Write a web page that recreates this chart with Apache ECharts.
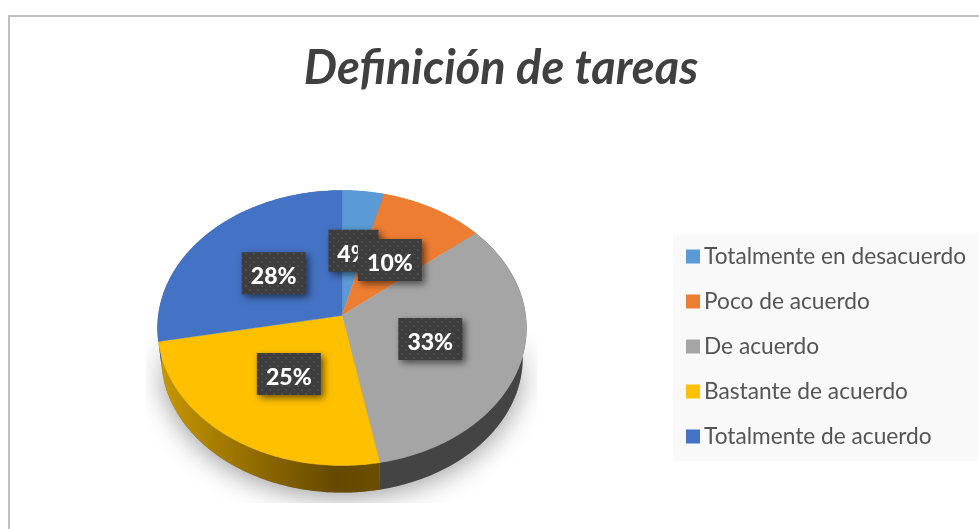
<!DOCTYPE html>
<html>
<head>
<meta charset="utf-8">
<script src="https://cdn.jsdelivr.net/npm/echarts@6/dist/echarts.min.js"></script>
<style>html,body{margin:0;padding:0;background:#fff}#c{width:979px;height:529px}</style>
</head>
<body>
<div id="c"></div>
<script>
const titleText = 'Definición de tareas';
const categories = ['Totalmente en desacuerdo', 'Poco de acuerdo', 'De acuerdo', 'Bastante de acuerdo', 'Totalmente de acuerdo'];
const values = [4, 10, 33, 25, 28];
const colors = ['#5b9bd5', '#ed7d31', '#a5a5a5', '#ffc000', '#4472c4'];

const total = values.reduce((a, b) => a + b, 0);
const startAt = values.map((_, i) => values.slice(0, i).reduce((a, b) => a + b, 0));

// Tilted disc: circle seen in perspective
const C = { x: 342, y: 315.5, rx: 183.7, ry: 136.4, k: 0.0909 };
const B = { x: 342, y: 345.5, rx: 180, ry: 133.7, k: 0.0909 };
function proj(D, frac, r) {
  const t = frac * 2 * Math.PI, s = Math.sin(t), c = Math.cos(t), rr = r === undefined ? 1 : r;
  const d = 1 + D.k * c * rr;
  return [D.x + D.rx * s * rr / d, D.y - D.ry * c * rr / d];
}
function arc(D, a, b) {
  const pts = [], n = Math.max(2, Math.ceil((b - a) * 360));
  for (let i = 0; i <= n; i++) pts.push(proj(D, a + (b - a) * i / n));
  return pts;
}
const dotted = (function () {
  const cv = document.createElement('canvas'); cv.width = 8; cv.height = 8;
  const g = cv.getContext('2d');
  g.fillStyle = '#3d3d3d'; g.fillRect(0, 0, 8, 8);
  g.fillStyle = '#4c4c4c'; g.fillRect(1, 1, 2, 2); g.fillRect(5, 5, 2, 2);
  return cv;
})();
const wallFill = [
  '#3f5f9f', '#a85820', '#444444',
  new echarts.graphic.LinearGradient(158, 0, 381, 0, [
    { offset: 0, color: '#c89800' }, { offset: 0.45, color: '#8f6a00' },
    { offset: 0.8, color: '#644900' }, { offset: 1, color: '#6b4e00' }], true),
  '#2f5597'
];

const baseSeries = {
  type: 'custom', name: 'base', coordinateSystem: 'none', silent: true, z: 1,
  data: [total],
  renderItem() {
    return {
      type: 'group', children: [
        { type: 'polygon', shape: { points: arc(B, 0, 1) },
          style: { fill: '#8a8a8a', shadowBlur: 28, shadowOffsetY: 4, shadowColor: 'rgba(0,0,0,0.4)' },
          clipPath: { type: 'rect', shape: { x: 146, y: 330, width: 391, height: 173 } } },
        { type: 'rect', shape: { x: 140, y: 328, width: 403, height: 62 },
          style: { fill: new echarts.graphic.LinearGradient(0, 0, 0, 1, [
            { offset: 0, color: 'rgba(255,255,255,1)' }, { offset: 1, color: 'rgba(255,255,255,0)' }]) } }
      ]
    };
  }
};
const wallSeries = {
  type: 'custom', name: 'wall', coordinateSystem: 'none', silent: true, z: 2,
  data: values,
  renderItem(params) {
    const i = params.dataIndex;
    const a = startAt[i] / total, b = (startAt[i] + values[i]) / total;
    const pts = arc(C, a, b).concat(arc(B, a, b).reverse());
    return { type: 'polygon', shape: { points: pts }, style: { fill: wallFill[i] } };
  }
};
const topSeries = categories.map((name, i) => ({
  type: 'custom', name, coordinateSystem: 'none', z: 3,
  itemStyle: { color: colors[i] },
  data: [values[i]],
  renderItem() {
    const a = startAt[i] / total, b = (startAt[i] + values[i]) / total;
    const pts = [[C.x, C.y]].concat(arc(C, a, b));
    return { type: 'polygon', shape: { points: pts },
      style: { fill: colors[i], stroke: colors[i], lineWidth: 0.4 } };
  }
}));
const labelSeries = {
  type: 'custom', name: 'labels', coordinateSystem: 'none', silent: true, z: 4,
  data: values,
  renderItem(params) {
    const i = params.dataIndex;
    const p = proj(C, (startAt[i] + values[i] / 2) / total, 0.5);
    const txt = values[i] + '%';
    const w = txt.length === 2 ? 50 : 64, h = 42;
    const bx = p[0] + 0.5;
    return {
      type: 'group', children: [
        { type: 'rect', shape: { x: bx - w / 2, y: p[1] - h / 2, width: w, height: h },
          style: { fill: { image: dotted, repeat: 'repeat' }, shadowBlur: 7, shadowOffsetX: 3, shadowOffsetY: 3, shadowColor: 'rgba(0,0,0,0.55)' } },
        { type: 'text', style: { x: bx, y: p[1] + 3.5, text: txt, fill: '#fff', align: 'center', verticalAlign: 'middle',
            font: '900 23px Lato' } }
      ]
    };
  }
};

const chart = echarts.init(document.getElementById('c'), null, { renderer: 'canvas' });
chart.setOption({
  animation: false,
  backgroundColor: '#ffffff',
  title: {
    text: titleText, left: 496, top: 40, textAlign: 'center',
    textStyle: { fontFamily: 'Lato', fontSize: 47, fontStyle: 'italic', fontWeight: 700, color: '#404040' }
  },
  legend: {
    data: categories, orient: 'vertical', left: 673, top: 234,
    padding: [11, 12, 13, 13], backgroundColor: '#f9f9f9',
    icon: 'rect', itemWidth: 14, itemHeight: 14, itemGap: 22,
    selectedMode: false,
    textStyle: { fontFamily: 'Lato', fontSize: 22.7, color: '#555555', padding: [0, 0, 0, -1] }
  },
  graphic: [{
    type: 'rect', z: 0, silent: true,
    shape: { x: 9, y: 16, width: 1100, height: 700 },
    style: { fill: '#ffffff', stroke: '#bfbfbf', lineWidth: 2 }
  }],
  series: [baseSeries, wallSeries].concat(topSeries, [labelSeries])
});
</script>
</body>
</html>
